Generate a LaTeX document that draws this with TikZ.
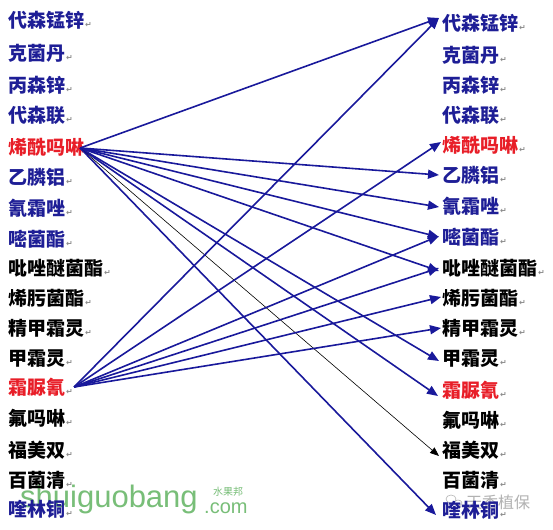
\documentclass[tikz,border=0pt]{standalone}
\usepackage{fontspec}
\usetikzlibrary{arrows.meta}
\newfontfamily\cjk{Noto Sans CJK SC}
\newfontfamily\symfont{DejaVu Sans}
\newfontfamily\wmfont{Liberation Sans}
\definecolor{itemblue}{RGB}{30,30,150}
\definecolor{itemred}{RGB}{232,30,40}
\definecolor{lineblue}{RGB}{25,25,155}
\definecolor{wmgreen}{RGB}{120,190,120}
\newcommand\retmark{\hspace{1pt}{\symfont\fontsize{8}{8}\selectfont\textcolor{black!45}{↵}}}
\begin{document}
\begin{tikzpicture}[x=1pt,y=-1pt,
  item/.style={anchor=west, inner sep=0pt, font=\cjk\bfseries\fontsize{19}{19}\selectfont,
    text height=16.7pt, text depth=2.3pt},
  bl/.style={item, text=itemblue},
  rd/.style={item, text=itemred},
  bk/.style={item, text=black},
  con/.style={draw=lineblue, line width=1.6pt, -{Triangle[length=11pt,width=9pt]}},
  thin/.style={draw=black, line width=0.6pt, -{Triangle[length=9pt,width=7pt]}},
  wm/.style={inner sep=0pt, anchor=base west}
]
\useasboundingbox (0,0) rectangle (553,529);
\fill[white] (0,0) rectangle (553,529);

% watermarks (behind)
\node[wm, text=wmgreen, font=\wmfont\fontsize{31}{31}\selectfont] (wm1) at (20,507) {shuiguobang};
\node[wm, text=wmgreen, font=\wmfont\fontsize{20}{20}\selectfont] (wm2) at (204,513) {.com};
\node[wm, text=wmgreen, font=\cjk\fontsize{10}{10}\selectfont] (wm3) at (213,495) {水果邦};
\draw[black!30, line width=0.6pt] (451,499) ellipse (5pt and 4pt);
\draw[black!30, line width=0.6pt] (458,503) ellipse (4pt and 3pt);
\node[wm, text=black!30, font=\cjk\fontsize{16}{16}\selectfont] (wm4) at (466,508) {天香植保};

% left column
\node[bl] (L1)  at (8,20)  {代森锰锌\retmark};
\node[bl] (L2)  at (8,53)  {克菌丹\retmark};
\node[bl] (L3)  at (8,85)  {丙森锌\retmark};
\node[bl] (L4)  at (8,115) {代森联\retmark};
\node[rd] (L5)  at (8,147) {烯酰吗啉\retmark};
\node[bl] (L6)  at (8,177) {乙膦铝\retmark};
\node[bl] (L7)  at (8,208) {氰霜唑\retmark};
\node[bl] (L8)  at (8,239) {嘧菌酯\retmark};
\node[bk] (L9)  at (8,268) {吡唑醚菌酯\retmark};
\node[bk] (L10) at (8,298) {烯肟菌酯\retmark};
\node[bk] (L11) at (8,328) {精甲霜灵\retmark};
\node[bk] (L12) at (8,358) {甲霜灵\retmark};
\node[rd] (L13) at (8,387) {霜脲氰\retmark};
\node[bk] (L14) at (8,418) {氟吗啉\retmark};
\node[bk] (L15) at (8,450) {福美双\retmark};
\node[bk] (L16) at (8,480) {百菌清\retmark};
\node[bl] (L17) at (8,509) {喹林铜\retmark};

% right column
\node[bl] (R1)  at (442,23)  {代森锰锌\retmark};
\node[bl] (R2)  at (442,55)  {克菌丹\retmark};
\node[bl] (R3)  at (442,85)  {丙森锌\retmark};
\node[bl] (R4)  at (442,115) {代森联\retmark};
\node[rd] (R5)  at (442,145) {烯酰吗啉\retmark};
\node[bl] (R6)  at (442,175) {乙膦铝\retmark};
\node[bl] (R7)  at (442,206) {氰霜唑\retmark};
\node[bl] (R8)  at (442,237) {嘧菌酯\retmark};
\node[bk] (R9)  at (442,268) {吡唑醚菌酯\retmark};
\node[bk] (R10) at (442,298) {烯肟菌酯\retmark};
\node[bk] (R11) at (442,328) {精甲霜灵\retmark};
\node[bk] (R12) at (442,358) {甲霜灵\retmark};
\node[rd] (R13) at (442,390) {霜脲氰\retmark};
\node[bk] (R14) at (442,420) {氟吗啉\retmark};
\node[bk] (R15) at (442,450) {福美双\retmark};
\node[bk] (R16) at (442,480) {百菌清\retmark};
\node[bl] (R17) at (442,510) {喹林铜\retmark};

% sources
\coordinate (sA) at ([xshift=-12pt,yshift=-1pt]L5.east);
\coordinate (sB) at ([xshift=1pt]L13.east);

% connectors from 烯酰吗啉
\draw[con] (sA) -- ([xshift=-3pt,yshift=5pt]R1.west);
\draw[con] (sA) -- ([xshift=-3pt]R6.west);
\draw[con] (sA) -- ([xshift=-3pt,yshift=-1pt]R7.west);
\draw[con] (sA) -- ([xshift=-3pt]R8.west);
\draw[con] (sA) -- ([xshift=-3pt,yshift=-3pt]R9.west);
\draw[con] (sA) -- ([xshift=-3pt,yshift=-3pt]R12.west);
\draw[con] (sA) -- ([xshift=-4pt,yshift=-6pt]R13.west);
\draw[thin] (sA) -- ([xshift=-3pt,yshift=-6pt]R15.west);
\draw[con] (sA) -- ([xshift=-6pt,yshift=-5pt]R17.west);

% connectors from 霜脲氰
\draw[con] (sB) -- ([xshift=-3pt,yshift=5pt]R1.west);
\draw[con] (sB) -- ([xshift=-1pt,yshift=3pt]R5.west);
\draw[con] (sB) -- ([xshift=-3pt,yshift=1pt]R8.west);
\draw[con] (sB) -- ([xshift=-3pt,yshift=0pt]R9.west);
\draw[con] (sB) -- ([xshift=-1pt,yshift=1pt]R10.west);
\draw[con] (sB) -- ([xshift=-1pt]R11.west);
\end{tikzpicture}
\end{document}
